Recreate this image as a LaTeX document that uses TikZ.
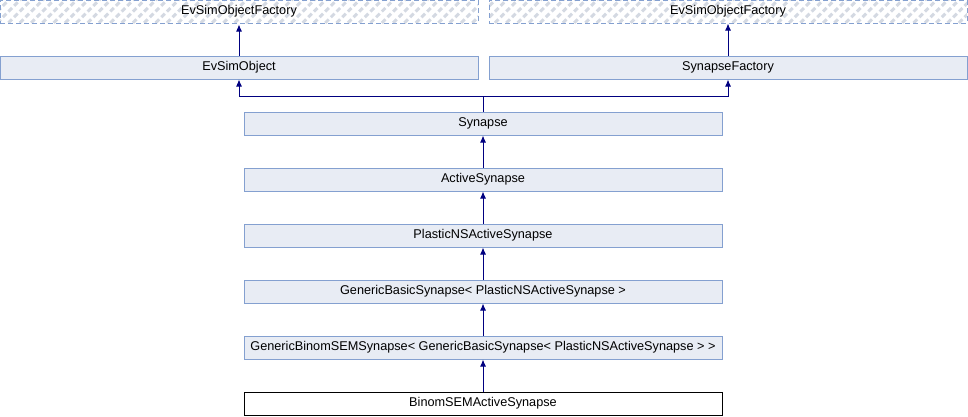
\documentclass[tikz,border=0pt]{standalone}
\usepackage{fontspec}
\setmainfont{Liberation Sans}
\usetikzlibrary{arrows.meta, patterns.meta, positioning}

\definecolor{boxline}{HTML}{84A0D0}
\definecolor{boxfill}{HTML}{E8ECF4}
\definecolor{edgeblue}{HTML}{000080}
\definecolor{hatch}{HTML}{D4D9E2}

\tikzset{
  cls/.style={draw=boxline, fill=boxfill, line width=1pt, minimum width=478pt,
    minimum height=23pt, inner sep=0pt, font=\fontsize{12.7}{14}\selectfont},
  extcls/.style={cls, dash pattern=on 5pt off 3pt,
    pattern={Lines[angle=45,distance=8pt,line width=3pt]}, pattern color=hatch},
  curcls/.style={cls, draw=black, fill=white},
  inh/.style={draw=edgeblue, line width=1pt, -{Latex[length=7pt,width=6pt]}},
}

\begin{document}
\begin{tikzpicture}[x=1pt, y=-1pt]
        \useasboundingbox (0,0) rectangle (968,416);

        % base classes
        \node[extcls] (factL) at (239,11.5) {EvSimObjectFactory};
        \node[extcls] (factR) at (728,11.5) {EvSimObjectFactory};
        \node[cls] (evso) at (239,67.5) {EvSimObject};
        \node[cls] (synf) at (728,67.5) {SynapseFactory};

        % main chain
        \node[cls] (syn) at (483,123.5) {Synapse};
        \node[cls] (act) at (483,179.5) {ActiveSynapse};
        \node[cls] (plas) at (483,235.5) {PlasticNSActiveSynapse};
        \node[cls] (gbas) at (483,291.5) {GenericBasicSynapse< PlasticNSActiveSynapse >};
        \node[cls] (gbin) at (483,347.5) {GenericBinomSEMSynapse< GenericBasicSynapse< PlasticNSActiveSynapse > >};
        \node[curcls] (bsem) at (483,403.5) {BinomSEMActiveSynapse};

        \coordinate (fork) at (483,96);

        \draw[inh] (evso) -- (factL);
        \draw[inh] (synf) -- (factR);
        \draw[inh] (syn.north) -- (fork) -| (evso.south);
        \draw[inh] (fork) -| (synf.south);
        \draw[inh] (act) -- (syn);
        \draw[inh] (plas) -- (act);
        \draw[inh] (gbas) -- (plas);
        \draw[inh] (gbin) -- (gbas);
        \draw[inh] (bsem) -- (gbin);
    \end{tikzpicture}
\end{document}
